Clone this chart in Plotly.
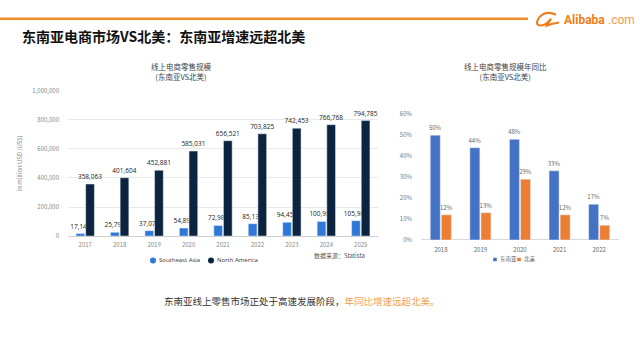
import plotly.graph_objects as go

# ---------------- data ----------------
years_left = ["2017", "2018", "2019", "2020", "2021", "2022", "2023", "2024", "2025"]
sea_sales = [17141, 25796, 37075, 54893, 72987, 85132, 94453, 100959, 105983]
na_sales = [358063, 401604, 452881, 585031, 656521, 703825, 742453, 766768, 794785]
left_ticks = [0, 200000, 400000, 600000, 800000, 1000000]

years_right = ["2018", "2019", "2020", "2021", "2022"]
sea_growth = [0.50, 0.44, 0.48, 0.33, 0.17]
na_growth = [0.12, 0.13, 0.29, 0.12, 0.07]
right_ticks = [0, 0.1, 0.2, 0.3, 0.4, 0.5, 0.6]

W, H = 640, 360
def px(x):
    return x / W
def py(y):
    return 1 - y / H

CJK = "Noto Sans CJK SC"
SEA_C = "#2f78d8"
NA_C = "#0d2440"
BLUE_R = "#4472c4"
ORANGE_R = "#ed7d31"
LOGO_C = "#f07c1a"

fig = go.Figure()

# left chart
fig.add_trace(go.Bar(x=years_left, y=sea_sales, name="Southeast Asia", marker_color=SEA_C,
                     texttemplate="%{y:,d}", textposition="outside", constraintext="none",
                     textfont=dict(size=6.5, color="#222", family="Open Sans"), cliponaxis=False,
                     showlegend=False, xaxis="x", yaxis="y"))
fig.add_trace(go.Bar(x=years_left, y=na_sales, name="North America", marker_color=NA_C,
                     texttemplate="%{y:,d}", textposition="outside", constraintext="none",
                     textfont=dict(size=6.5, color="#222", family="Open Sans"), cliponaxis=False,
                     showlegend=False, xaxis="x", yaxis="y"))

# right chart
fig.add_trace(go.Bar(x=years_right, y=sea_growth, name="东南亚", marker_color=BLUE_R,
                     texttemplate="%{y:.0%}", textposition="outside", constraintext="none",
                     textfont=dict(size=6, color="#666", family=CJK), cliponaxis=False,
                     showlegend=False, xaxis="x2", yaxis="y2"))
fig.add_trace(go.Bar(x=years_right, y=na_growth, name="北美", marker_color=ORANGE_R,
                     texttemplate="%{y:.0%}", textposition="outside", constraintext="none",
                     textfont=dict(size=6, color="#666", family=CJK), cliponaxis=False,
                     showlegend=False, xaxis="x2", yaxis="y2"))

fig.update_layout(
    width=W, height=H, margin=dict(l=0, r=0, t=0, b=0),
    paper_bgcolor="white", plot_bgcolor="rgba(0,0,0,0)",
    barmode="group", bargap=0.44, bargroupgap=0.1, showlegend=False,
    font=dict(family=CJK, color="#333"),
    xaxis=dict(domain=[px(68), px(378)], type="category", range=[-0.5, 8.5], showgrid=False,
               showline=False, ticks="", tickfont=dict(size=6, color="#888"), anchor="y",
               ticklabelstandoff=4),
    yaxis=dict(domain=[py(237), py(88)], range=[0, 1000000], tickvals=left_ticks,
               tickformat=",d", showgrid=True, gridcolor="#e8e8e8", gridwidth=1,
               zeroline=True, zerolinecolor="#cfcfcf", zerolinewidth=1,
               tickfont=dict(size=6, color="#888"), ticks="", ticklabelstandoff=8,
               title=dict(text="in million USD (US$)", font=dict(size=6, color="#888"), standoff=9),
               anchor="x"),
    xaxis2=dict(domain=[px(421), px(619)], type="category", range=[-0.5, 4.5], showgrid=False,
                showline=False, ticks="", tickfont=dict(size=6, color="#666"), anchor="y2",
                ticklabelstandoff=5),
    yaxis2=dict(domain=[py(241), py(112)], range=[0, 0.6], tickvals=right_ticks,
                tickformat=".0%", showgrid=False, zeroline=True, zerolinecolor="#d9d9d9",
                zerolinewidth=1, tickfont=dict(size=6, color="#777"), ticks="",
                ticklabelstandoff=8, anchor="x2"),
)

shapes = []
# top orange line
shapes.append(dict(type="line", xref="paper", yref="paper", x0=0, x1=px(528), y0=py(14), y1=py(14),
                   line=dict(color="#f08a2a", width=2.5)))

# logo swoosh icon
def path(cmds):
    out = []
    for c in cmds:
        if isinstance(c, str):
            out.append(c)
        else:
            out.append(f"{px(c[0]):.5f},{py(c[1]):.5f}")
    return " ".join(out)

shapes.append(dict(type="path", xref="paper", yref="paper",
                   path=path(["M", (556, 10), "Q", (546, 5), (539, 13), "Q", (534, 21), (541, 21),
                              "Q", (546, 21), (551, 14), "L", (547, 21), "Q", (552, 19), (559, 18)]),
                   line=dict(color=LOGO_C, width=2), fillcolor="rgba(0,0,0,0)"))

# manual legends
def dot(x, y, r, color, kind="circle"):
    if kind == "circle":
        return dict(type="circle", xref="paper", yref="paper", x0=px(x - r), x1=px(x + r),
                    y0=py(y + r), y1=py(y - r), fillcolor=color, line=dict(width=0))
    return dict(type="rect", xref="paper", yref="paper", x0=px(x - r), x1=px(x + r),
                y0=py(y + r), y1=py(y - r), fillcolor=color, line=dict(width=0))

shapes += [dot(153, 262, 3, SEA_C), dot(211, 262, 3, NA_C),
           dot(495, 261, 1.8, BLUE_R, "rect"), dot(519, 261, 1.8, ORANGE_R, "rect")]
fig.update_layout(shapes=shapes)

def note(text, x, y, size, color, family=CJK, xanchor="center", **kw):
    return dict(text=text, x=px(x), y=py(y), xref="paper", yref="paper", xanchor=xanchor,
                yanchor="middle", showarrow=False, font=dict(size=size, color=color, family=family), **kw)

ann = [
    note("<b>Alibaba</b>", 607, 15, 12, LOGO_C, "Roboto", "right"),
    note(".com", 606, 15.5, 12, "#f39a4a", "Roboto", "left"),
    # main title
    note("<b>东南亚电商市场VS北美：东南亚增速远超北美</b>", 20, 32, 14, "#111", CJK, "left"),
    # chart titles
    note("线上电商零售规模<br>(东南亚VS北美)", 181, 68, 7.5, "#444", align="center"),
    note("线上电商零售规模年同比<br>(东南亚VS北美)", 505, 68, 7.5, "#444", align="center"),
    # legends
    note("Southeast Asia", 157, 262, 6, "#333", "Open Sans", "left"),
    note("North America", 215, 262, 6, "#333", "Open Sans", "left"),
    note("东南亚", 497.5, 261, 5.5, "#666", CJK, "left"),
    note("北美", 521.5, 261, 5.5, "#666", CJK, "left"),
    # source
    note("数据来源：Statista", 367, 257, 6, "#555", CJK, "right"),
    # bottom text
    note("东南亚线上零售市场正处于高速发展阶段，<span style='color:#f2a04f'>年同比增速远超北美。</span>",
         302, 304, 9.5, "#333"),
]
fig.update_layout(annotations=ann)

fig.write_html("out.html", config={"displayModeBar": False, "staticPlot": True},
               post_script="document.body.style.margin='0';document.body.style.padding='0';")
